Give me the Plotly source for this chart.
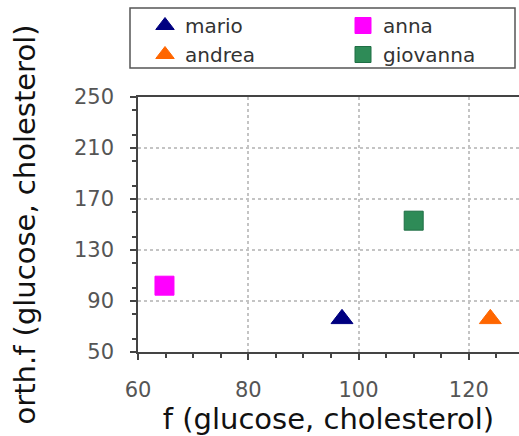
import plotly.graph_objects as go

names = ["mario", "anna", "andrea", "giovanna"]
x_vals = [97.0, 64.8, 123.9, 110.0]
y_vals = [76.0, 102.0, 76.0, 153.0]
symbols = ["triangle-up", "square", "triangle-up", "square"]
colors = ["#000080", "#ff00ff", "#ff6600", "#2e8b57"]
line_colors = ["#000080", "#ff00ff", "#ff6600", "#1f6e45"]
legend_ids = ["legend", "legend2", "legend", "legend2"]

x_title = "f (glucose, cholesterol)"
y_title = "orth.f (glucose, cholesterol)"

fig = go.Figure()
for n, xv, yv, s, c, lc, lg in zip(names, x_vals, y_vals, symbols, colors, line_colors, legend_ids):
    fig.add_trace(go.Scatter(
        x=[xv], y=[yv], mode="markers", name=n, legend=lg,
        marker=dict(symbol=s, size=19, color=c, line=dict(color=lc, width=1)),
    ))

font_main = "DejaVu Sans"
axis_common = dict(
    showline=True, linecolor="#444", linewidth=1.5,
    ticks="outside", ticklen=6, tickcolor="#444", tickwidth=1.5,
    showgrid=True, gridcolor="#c4c4c4", griddash="dot", gridwidth=1.5,
    zeroline=False,
    tickfont=dict(family=font_main, size=21, color="#555"),
    title_font=dict(family=font_main, size=29, color="#111"),
)

fig.update_xaxes(
    range=[60, 129.1], dtick=20, tick0=60, mirror=True,
    minor=dict(dtick=5, ticks="outside", ticklen=4, tickcolor="#444", showgrid=False),
    title_text=x_title, title_standoff=1, ticklabelstandoff=12,
    **axis_common,
)
fig.update_yaxes(
    range=[50, 250], dtick=40, tick0=50,
    minor=dict(dtick=20, ticks="outside", ticklen=4, tickcolor="#444", showgrid=False),
    title_text=y_title, title_standoff=30, ticklabelstandoff=12,
    **axis_common,
)

legend_common = dict(
    yanchor="top", xanchor="left", orientation="v",
    bgcolor="rgba(0,0,0,0)", borderwidth=0,
    font=dict(family=font_main, size=20, color="#333"),
    itemsizing="trace", tracegroupgap=0,
)
fig.update_layout(
    width=519, height=436,
    margin=dict(l=138, r=0, t=97, b=84),
    paper_bgcolor="white", plot_bgcolor="white",
    showlegend=True,
    legend=dict(x=(145 - 138) / 381, y=(352 - 6) / 255, **legend_common),
    legend2=dict(x=(343 - 138) / 381, y=(352 - 6) / 255, **legend_common),
)
fig.add_shape(
    type="rect", xref="paper", yref="paper",
    x0=(130 - 138) / 381, x1=(515 - 138) / 381,
    y0=(352 - 68) / 255, y1=(352 - 8) / 255,
    line=dict(color="#555", width=1.5), fillcolor="rgba(0,0,0,0)", layer="above",
)

fig.write_html("out.html")
